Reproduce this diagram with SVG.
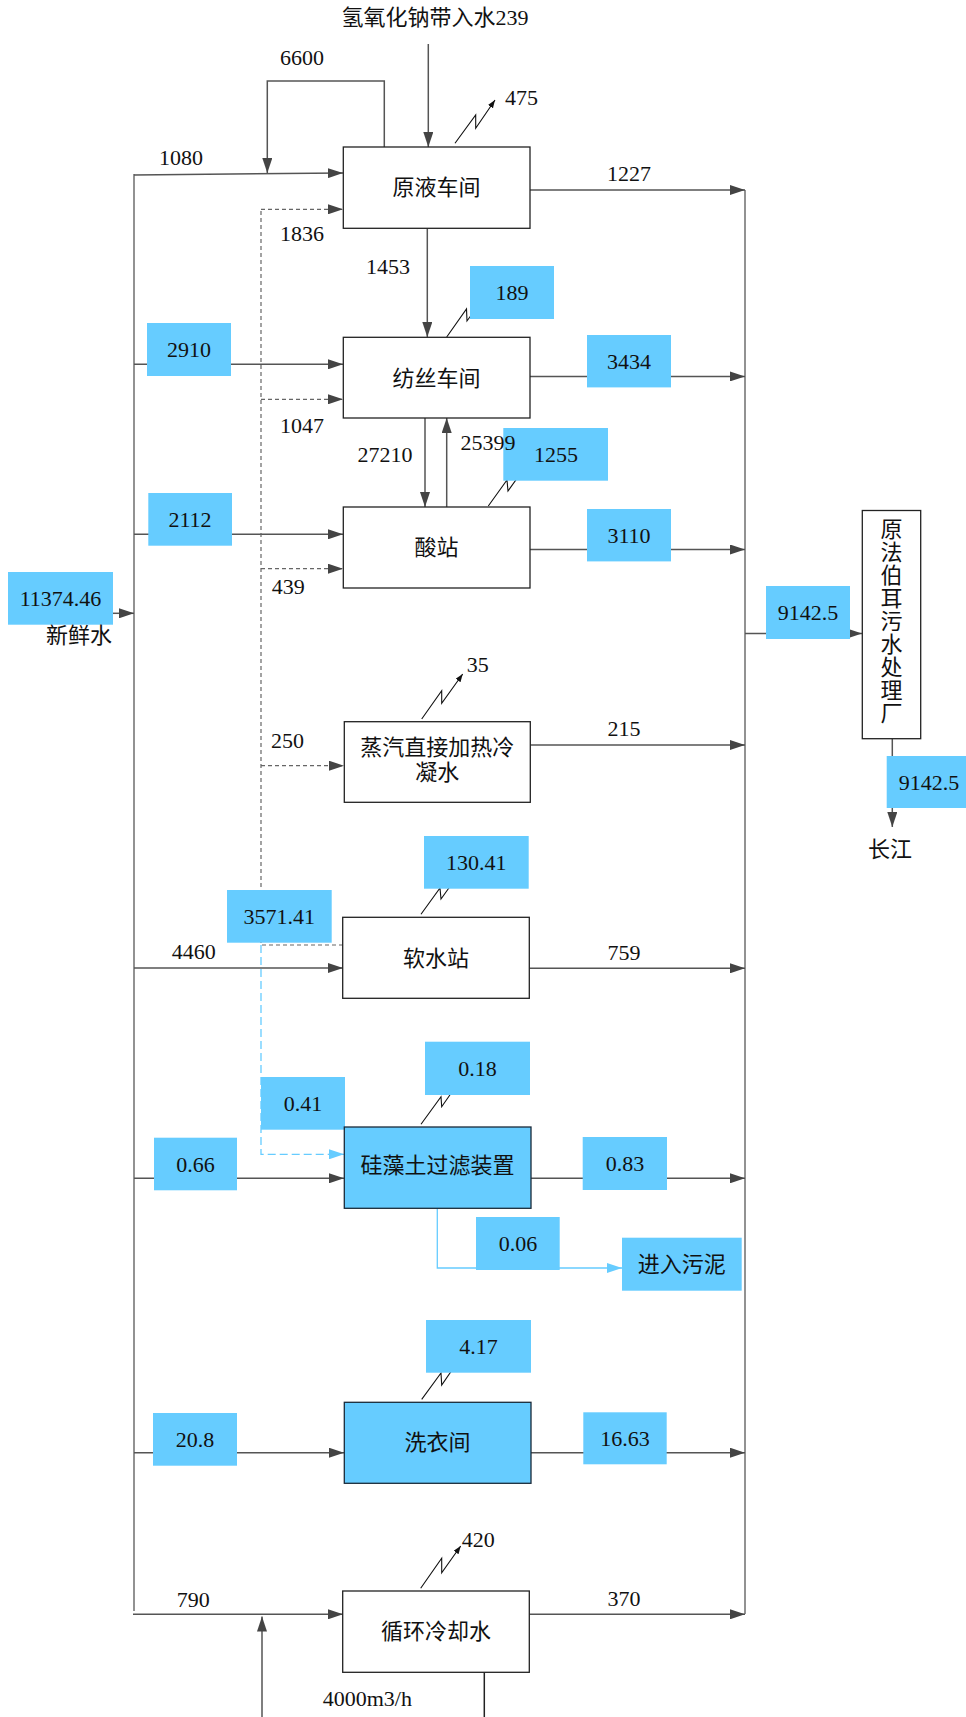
<svg xmlns="http://www.w3.org/2000/svg" width="966" height="1717" viewBox="0 0 966 1717">
<style>
text{font-family:"Liberation Serif","Noto Sans CJK SC",serif;font-size:22px;fill:#111;}
.c{text-anchor:middle;}
.box{fill:#fff;stroke:#222;stroke-width:1.3;}
.bbox{fill:#66CCFF;stroke:#1a2a3a;stroke-width:1.3;}
.lbl{fill:#66CCFF;stroke:none;}
.ln{fill:none;stroke:#666;stroke-width:1.5;}
.bus{fill:none;stroke:#777;stroke-width:1.6;}
.ar{fill:none;stroke:#555;stroke-width:1.5;marker-end:url(#ah);}
.da{fill:none;stroke:#666;stroke-width:1.2;stroke-dasharray:4 3;}
.dar{fill:none;stroke:#666;stroke-width:1.2;stroke-dasharray:4 3;marker-end:url(#ah);}
.bl{fill:none;stroke:#66CCFF;stroke-width:1.3;}
.bld{fill:none;stroke:#66CCFF;stroke-width:1.3;stroke-dasharray:8 4;marker-end:url(#ahb);}
.bla{fill:none;stroke:#66CCFF;stroke-width:1.3;marker-end:url(#ahb);}
.zz{fill:none;stroke:#111;stroke-width:1.1;}
.zza{fill:none;stroke:#111;stroke-width:1.1;marker-end:url(#ahs);}
</style>
<defs>
<marker id="ah" viewBox="0 0 15 10" refX="15" refY="5" markerWidth="15" markerHeight="10" markerUnits="userSpaceOnUse" orient="auto"><path d="M0,0 L15,5 L0,10 z" fill="#444"/></marker>
<marker id="ahb" viewBox="0 0 15 10" refX="15" refY="5" markerWidth="15" markerHeight="10" markerUnits="userSpaceOnUse" orient="auto"><path d="M0,0 L15,5 L0,10 z" fill="#66CCFF"/></marker>
<marker id="ahs" viewBox="0 0 8 6" refX="8" refY="3" markerWidth="8" markerHeight="6" markerUnits="userSpaceOnUse" orient="auto"><path d="M0,0 L8,3 L0,6 z" fill="#111"/></marker>
</defs>

<g id="connectors">
  <!-- left bus -->
  <path class="bus" d="M134,174 V1611"/>
  <!-- right bus -->
  <path class="bus" d="M745,190 V1614"/>
  <!-- inputs from left bus -->
  <path class="ar" d="M134,175 L343,173"/>
  <path class="ar" d="M134,364.3 H343"/>
  <path class="ar" d="M134,534.3 H343"/>
  <path class="ar" d="M134,968 H343"/>
  <path class="ar" d="M134,1178.3 H344"/>
  <path class="ar" d="M134,1452.7 H344"/>
  <path class="ar" d="M133,1614.3 H343"/>
  <!-- fresh water in -->
  <path class="ar" d="M113,613.3 H134"/>
  <!-- top inputs -->
  <path class="ar" d="M428.3,44 V147"/>
  <path class="ar" d="M384.3,147 V81 H267.3 V173"/>
  <!-- between workshops -->
  <path class="ar" d="M427.3,228.3 V337"/>
  <path class="ar" d="M425,418 V507"/>
  <path class="ar" d="M446.7,507 V418"/>
  <!-- outputs to right bus -->
  <path class="ar" d="M530,190 H745"/>
  <path class="ar" d="M530,376.4 H745"/>
  <path class="ar" d="M530,549.5 H745"/>
  <path class="ar" d="M530.3,745 H745"/>
  <path class="ar" d="M529.3,968.3 H745"/>
  <path class="ar" d="M531,1178.3 H745"/>
  <path class="ar" d="M531,1452.7 H745"/>
  <path class="ar" d="M529.3,1614.3 H745"/>
  <!-- to wastewater plant and river -->
  <path class="ar" d="M745,633.5 H862"/>
  <path class="ar" d="M892.3,738.7 V827"/>
  <!-- recycled (dashed) -->
  <path class="da" d="M343,945 H261 V209.3"/>
  <path class="dar" d="M261,209.3 H343"/>
  <path class="dar" d="M261,399.3 H343"/>
  <path class="dar" d="M261,568.7 H343"/>
  <path class="dar" d="M261,765.7 H344"/>
  <path class="bld" d="M261,945 V1154.3 H344"/>
  <!-- sludge -->
  <path class="bla" d="M437.3,1208.3 V1268 H622"/>
  <!-- circulating cooling water -->
  <path class="ar" d="M262,1717 V1616.5"/>
  <path class="ln" d="M484.3,1672.3 V1717" style="stroke:#222"/>
  <!-- loss zigzags -->
  <path class="zza" d="M455,143.3 L475.7,115 L475.7,128.3 L495,100"/>
  <path class="zz" d="M446.7,337 L466.5,309 L467,321 L487,293"/>
  <path class="zz" d="M488.3,506 L507,480 L508,491 L528,463"/>
  <path class="zza" d="M421.7,719 L441.7,690.7 L441.7,703.3 L462.7,674"/>
  <path class="zz" d="M421,914.3 L440,888 L441,899 L461,871"/>
  <path class="zz" d="M421,1124.3 L441,1096.7 L441.7,1106.7 L461,1079"/>
  <path class="zz" d="M421.7,1399.3 L441,1373 L441.7,1385 L461,1357"/>
  <path class="zza" d="M420.7,1588.3 L441.7,1558.3 L441.7,1572.7 L460.7,1546"/>
</g>

<g id="value-tags">
  <rect class="lbl" x="470" y="266" width="84" height="53"/><text x="512" y="300" class="c">189</text>
  <rect class="lbl" x="147" y="323" width="84" height="53"/><text x="189" y="357" class="c">2910</text>
  <rect class="lbl" x="587" y="335" width="84" height="52.4"/><text x="629" y="369" class="c">3434</text>
  <rect class="lbl" x="503.3" y="428" width="104.7" height="52.7"/><text x="556" y="462" class="c">1255</text>
  <rect class="lbl" x="148.3" y="493" width="83.7" height="52.7"/><text x="190" y="527" class="c">2112</text>
  <rect class="lbl" x="587" y="509" width="84" height="52.4"/><text x="629" y="543" class="c">3110</text>
  <rect class="lbl" x="8" y="572" width="105" height="52.7"/><text x="60.5" y="606" class="c">11374.46</text>
  <rect class="lbl" x="766" y="586" width="84" height="53"/><text x="808" y="620" class="c">9142.5</text>
  <rect class="lbl" x="886.7" y="756" width="79.3" height="52"/><text x="929" y="790" class="c">9142.5</text>
  <rect class="lbl" x="424" y="836" width="104.7" height="52.7"/><text x="476.3" y="870" class="c">130.41</text>
  <rect class="lbl" x="227" y="890" width="104.7" height="52.7"/><text x="279.3" y="924" class="c">3571.41</text>
  <rect class="lbl" x="425" y="1041.7" width="105" height="53.3"/><text x="477.5" y="1076" class="c">0.18</text>
  <rect class="lbl" x="261" y="1077" width="84" height="52.7"/><text x="303" y="1111" class="c">0.41</text>
  <rect class="lbl" x="154" y="1137.7" width="83" height="52.6"/><text x="195.5" y="1172" class="c">0.66</text>
  <rect class="lbl" x="582.7" y="1137" width="84.3" height="53"/><text x="625" y="1171" class="c">0.83</text>
  <rect class="lbl" x="476" y="1217" width="83.7" height="53"/><text x="518" y="1251" class="c">0.06</text>
  <rect class="lbl" x="426" y="1320" width="105" height="52.7"/><text x="478.5" y="1354" class="c">4.17</text>
  <rect class="lbl" x="153" y="1413" width="84" height="52.7"/><text x="195" y="1447" class="c">20.8</text>
  <rect class="lbl" x="583.3" y="1412.3" width="83.4" height="52"/><text x="625" y="1446" class="c">16.63</text>
</g>

<g id="labels">
  <text x="435" y="25" class="c">氢氧化钠带入水239</text>
  <text x="302" y="65" class="c">6600</text>
  <text x="181" y="165" class="c">1080</text>
  <text x="505" y="105">475</text>
  <text x="302" y="241" class="c">1836</text>
  <text x="388" y="274" class="c">1453</text>
  <text x="302" y="433" class="c">1047</text>
  <text x="385" y="462" class="c">27210</text>
  <text x="488" y="450" class="c">25399</text>
  <text x="271.7" y="594">439</text>
  <text x="466.7" y="672">35</text>
  <text x="271" y="748">250</text>
  <text x="193.7" y="959.3" class="c">4460</text>
  <text x="461.7" y="1547">420</text>
  <text x="176.7" y="1607">790</text>
  <text x="322.7" y="1706">4000m3/h</text>
  <text x="629" y="181.2" class="c">1227</text>
  <text x="624" y="735.5" class="c">215</text>
  <text x="624" y="960" class="c">759</text>
  <text x="624" y="1606" class="c">370</text>
  <text x="79" y="643.3" class="c">新鲜水</text>
  <text x="890" y="857" class="c">长江</text>
</g>

<g id="node-yuanye"><rect class="box" x="343.3" y="147" width="186.7" height="81.3"/><text x="436.6" y="195" class="c">原液车间</text></g>
<g id="node-fangsi"><rect class="box" x="343.3" y="337.3" width="186.7" height="80.7"/><text x="436.6" y="385.5" class="c">纺丝车间</text></g>
<g id="node-suanzhan"><rect class="box" x="343.3" y="507" width="186.7" height="81"/><text x="436.6" y="555" class="c">酸站</text></g>
<g id="node-zhengqi"><rect class="box" x="344.3" y="721.7" width="186" height="80.6"/><text x="437.3" y="755" class="c">蒸汽直接加热冷</text><text x="437.3" y="780" class="c">凝水</text></g>
<g id="node-ruanshui"><rect class="box" x="342.7" y="917.3" width="186.6" height="81"/><text x="436" y="965.5" class="c">软水站</text></g>
<g id="node-guizaotu"><rect class="bbox" x="344.3" y="1127" width="186.7" height="81.3"/><text x="437.6" y="1173" class="c">硅藻土过滤装置</text></g>
<g id="node-wunixia"><rect class="lbl" x="622" y="1237.7" width="119.7" height="53"/><text x="681.8" y="1272" class="c">进入污泥</text></g>
<g id="node-xiyi"><rect class="bbox" x="344.3" y="1402.3" width="186.7" height="81"/><text x="437.6" y="1450" class="c">洗衣间</text></g>
<g id="node-xunhuan"><rect class="box" x="342.7" y="1591" width="186.6" height="81.3"/><text x="436" y="1639" class="c">循环冷却水</text></g>
<g id="node-wushui"><rect class="box" x="862.3" y="510.5" width="58.4" height="228.2"/>
  <text x="891.5" y="537" class="c">原</text><text x="891.5" y="560" class="c">法</text><text x="891.5" y="583" class="c">伯</text><text x="891.5" y="606" class="c">耳</text><text x="891.5" y="629" class="c">污</text><text x="891.5" y="652" class="c">水</text><text x="891.5" y="675" class="c">处</text><text x="891.5" y="698" class="c">理</text><text x="891.5" y="721" class="c">厂</text>
</g>
</svg>
